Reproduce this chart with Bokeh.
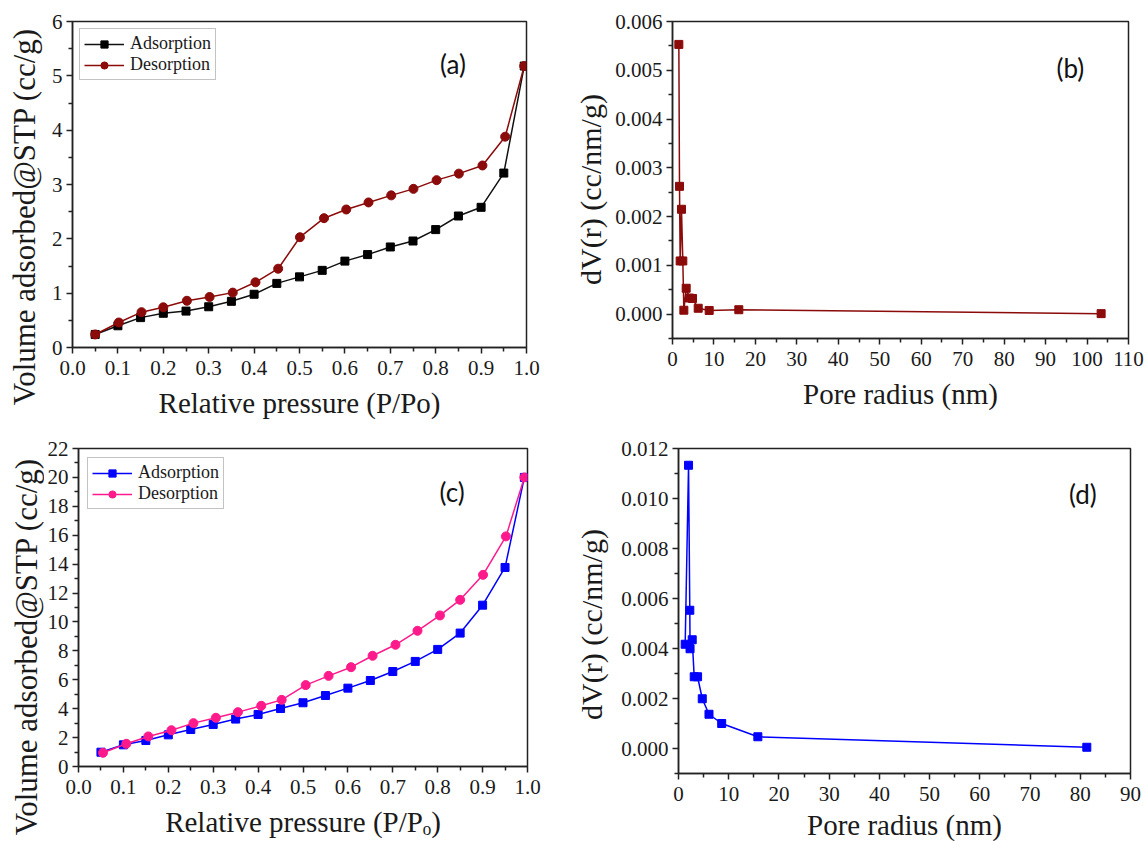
import math
from bokeh.plotting import figure
from bokeh.layouts import column, row
from bokeh.models import FixedTicker, Range1d, Label, NumeralTickFormatter
from bokeh.embed import file_html
from bokeh.resources import INLINE

# ---------------- data ----------------
# (a) isotherm, sample 1
a_ads_x = [0.05, 0.10, 0.15, 0.20, 0.25, 0.30, 0.35, 0.40, 0.45, 0.50,
           0.55, 0.60, 0.65, 0.70, 0.75, 0.80, 0.85, 0.90, 0.95, 0.995]
a_ads_y = [0.24, 0.40, 0.55, 0.63, 0.67, 0.75, 0.85, 0.98, 1.18, 1.30,
           1.42, 1.59, 1.71, 1.85, 1.96, 2.17, 2.42, 2.58, 3.21, 5.18]
a_des_x = [0.05, 0.102, 0.152, 0.20, 0.252, 0.302, 0.353, 0.403, 0.453, 0.501,
           0.554, 0.603, 0.652, 0.702, 0.751, 0.802, 0.851, 0.903, 0.953, 0.995]
a_des_y = [0.24, 0.46, 0.65, 0.74, 0.86, 0.93, 1.01, 1.20, 1.45, 2.03,
           2.38, 2.54, 2.67, 2.80, 2.92, 3.08, 3.20, 3.35, 3.88, 5.18]

# (b) pore size distribution, sample 1
b_r = [1.53, 1.69, 1.85, 2.17, 2.49, 2.74, 3.30, 4.10, 4.83, 6.20, 8.85, 16.0, 103.4]
b_dv = [0.00553, 0.00262, 0.00109, 0.00215, 0.00109, 0.00008, 0.00053,
        0.00033, 0.00032, 0.00012, 0.000075, 0.00009, 0.00001]

# (c) isotherm, sample 2
c_ads_x = [0.05, 0.10, 0.15, 0.20, 0.25, 0.30, 0.35, 0.40, 0.45, 0.50,
           0.55, 0.60, 0.65, 0.70, 0.75, 0.80, 0.85, 0.90, 0.95, 0.993]
c_ads_y = [0.99, 1.50, 1.80, 2.19, 2.56, 2.91, 3.28, 3.60, 4.01, 4.41,
           4.91, 5.42, 5.95, 6.57, 7.27, 8.10, 9.23, 11.16, 13.77, 20.0]
c_des_x = [0.0545, 0.1065, 0.1555, 0.207, 0.256, 0.306, 0.355, 0.407, 0.4525, 0.506,
           0.557, 0.607, 0.655, 0.706, 0.755, 0.805, 0.850, 0.901, 0.952, 0.993]
c_des_y = [0.95, 1.57, 2.08, 2.51, 3.00, 3.37, 3.76, 4.20, 4.61, 5.63,
           6.27, 6.87, 7.66, 8.42, 9.39, 10.45, 11.53, 13.26, 15.92, 20.0]

# (d) pore size distribution, sample 2
d_r = [1.33, 2.00, 2.25, 2.30, 2.73, 3.13, 3.80, 4.73, 6.07, 8.60, 15.8, 81.3]
d_dv = [0.00417, 0.01133, 0.00553, 0.00399, 0.00435, 0.00287, 0.00287,
        0.00199, 0.00137, 0.00100, 0.00047, 0.00005]

# tick values / labels
iso_x_ticks = [0.0, 0.1, 0.2, 0.3, 0.4, 0.5, 0.6, 0.7, 0.8, 0.9, 1.0]
iso_x_minor = [0.05, 0.15, 0.25, 0.35, 0.45, 0.55, 0.65, 0.75, 0.85, 0.95]
a_y_ticks = [0, 1, 2, 3, 4, 5, 6]
a_y_minor = [0.5, 1.5, 2.5, 3.5, 4.5, 5.5]
b_x_ticks = [0, 10, 20, 30, 40, 50, 60, 70, 80, 90, 100, 110]
b_x_minor = [5, 15, 25, 35, 45, 55, 65, 75, 85, 95, 105]
b_y_ticks = [0.0, 0.001, 0.002, 0.003, 0.004, 0.005, 0.006]
b_y_minor = [-0.0005, 0.0005, 0.0015, 0.0025, 0.0035, 0.0045, 0.0055]
c_y_ticks = [0, 2, 4, 6, 8, 10, 12, 14, 16, 18, 20, 22]
c_y_minor = [1, 3, 5, 7, 9, 11, 13, 15, 17, 19, 21]
d_x_ticks = [0, 10, 20, 30, 40, 50, 60, 70, 80, 90]
d_x_minor = [5, 15, 25, 35, 45, 55, 65, 75, 85]
d_y_ticks = [0.0, 0.002, 0.004, 0.006, 0.008, 0.010, 0.012]
d_y_minor = [-0.001, 0.001, 0.003, 0.005, 0.007, 0.009, 0.011]

# texts
iso_ylabel = "Volume adsorbed@STP (cc/g)"
a_xlabel = "Relative pressure (P/Po)"
c_xlabel = "Relative pressure (P/P\u2092)"
psd_xlabel = "Pore radius (nm)"
psd_ylabel = "dV(r) (cc/nm/g)"

SERIF = "Liberation Serif"
SANS = "Lato"
MAROON = "#8B0A0A"
BLUE = "#0000FF"
PINK = "#FF1A8C"

ROW1_H = 423
ROW2_H = 418
STRIP_W = 44


def make_fig(xr, yr, fw, fh, mbl, mbr, mbt, mbb, xt, xm, yt, ym, xfmt, yfmt,
             xlabel, xstand):
    p = figure(frame_width=fw, frame_height=fh,
               x_range=Range1d(*xr), y_range=Range1d(*yr),
               min_border_left=mbl, min_border_right=mbr,
               min_border_top=mbt, min_border_bottom=mbb,
               output_backend="svg", toolbar_location=None)
    p.grid.visible = False
    p.outline_line_color = "#222222"
    p.outline_line_width = 1.5
    p.background_fill_color = "white"
    p.border_fill_color = "white"
    p.xaxis.ticker = FixedTicker(ticks=xt, minor_ticks=xm)
    p.yaxis.ticker = FixedTicker(ticks=yt, minor_ticks=ym)
    p.xaxis.formatter = NumeralTickFormatter(format=xfmt)
    p.yaxis.formatter = NumeralTickFormatter(format=yfmt)
    for ax in (p.xaxis, p.yaxis):
        ax.axis_line_width = 1.5
        ax.axis_line_color = "#222222"
        ax.major_tick_line_width = 1.5
        ax.minor_tick_line_width = 1.5
        ax.major_tick_line_color = "#222222"
        ax.minor_tick_line_color = "#222222"
        ax.major_tick_out = 6
        ax.major_tick_in = 0
        ax.minor_tick_out = 4
        ax.minor_tick_in = 0
        ax.major_label_text_font = SERIF
        ax.major_label_text_font_size = "21px"
        ax.major_label_text_color = "#1a1a1a"
        ax.major_label_standoff = 4
        ax.axis_label_text_font = SERIF
        ax.axis_label_text_font_size = "29px"
        ax.axis_label_text_font_style = "normal"
        ax.axis_label_text_color = "#1a1a1a"
    p.xaxis.major_label_standoff = 7
    p.xaxis.axis_label = xlabel
    p.xaxis.axis_label_standoff = xstand
    return p


def title_strip(text, height, cx, cy_from_top, size):
    # narrow blank strip holding a rotated y-axis title (coordinates = pixels)
    s = figure(frame_width=STRIP_W, frame_height=height, min_border=0,
               x_range=Range1d(0, STRIP_W), y_range=Range1d(0, height),
               x_axis_location=None, y_axis_location=None,
               output_backend="svg", toolbar_location=None)
    s.grid.visible = False
    s.outline_line_color = None
    s.background_fill_color = "white"
    s.border_fill_color = "white"
    s.add_layout(Label(x=cx, y=height - cy_from_top, text=text, angle=math.pi / 2,
                       text_font=SERIF, text_font_size=size, text_color="#1a1a1a",
                       text_align="center", text_baseline="middle"))
    return s


def style_legend(p, margin):
    lg = p.legend[0]
    lg.location = "top_left"
    lg.margin = margin
    lg.label_text_font = SERIF
    lg.label_text_font_size = "18px"
    lg.label_text_color = "#1a1a1a"
    lg.glyph_width = 40
    lg.glyph_height = 18
    lg.label_height = 18
    lg.label_standoff = 6
    lg.spacing = 0
    lg.padding = 4
    lg.border_line_color = "#888888"
    lg.border_line_width = 1.2
    lg.background_fill_alpha = 1.0


def panel_label(p, text, x, y):
    p.add_layout(Label(x=x, y=y, text=text, text_font=SANS, text_font_size="26px",
                       text_color="#111111", text_align="center", text_baseline="middle"))


# ---------------- (a) ----------------
ta = title_strip(iso_ylabel, ROW1_H, 24, 195, "31px")
pa = make_fig((0, 1), (0, 6), 454, 326, 28, 42, 21, 76,
              iso_x_ticks, iso_x_minor, a_y_ticks, a_y_minor, "0.0", "0", a_xlabel, 9)
pa.line(a_ads_x, a_ads_y, line_color="#111111", line_width=1.5, legend_label="Adsorption")
pa.scatter(a_ads_x, a_ads_y, marker="square", size=8, fill_color="#000000",
           line_color="#000000", legend_label="Adsorption")
pa.line(a_des_x, a_des_y, line_color=MAROON, line_width=1.5, legend_label="Desorption")
pa.scatter(a_des_x, a_des_y, marker="circle", size=9, fill_color=MAROON,
           line_color=MAROON, legend_label="Desorption")
style_legend(pa, 7)
panel_label(pa, "(a)", 0.838, 5.21)

# ---------------- (b) ----------------
tb = title_strip(psd_ylabel, ROW1_H, 21.5, 168, "30px")
pb = make_fig((0, 110), (-0.0005, 0.006), 456, 317, 60, 18, 20, 86,
              b_x_ticks, b_x_minor, b_y_ticks, b_y_minor, "0", "0.000", psd_xlabel, 9)
pb.line(b_r, b_dv, line_color=MAROON, line_width=1.5)
pb.scatter(b_r, b_dv, marker="square", size=8, fill_color=MAROON, line_color=MAROON)
panel_label(pb, "(b)", 96, 0.00505)

# ---------------- (c) ----------------
tc = title_strip(iso_ylabel, ROW2_H, 26, 198, "31px")
pc = make_fig((0, 1), (0, 22), 449, 318, 34, 47, 24, 76,
              iso_x_ticks, iso_x_minor, c_y_ticks, c_y_minor, "0.0", "0", c_xlabel, 9)
pc.line(c_ads_x, c_ads_y, line_color=BLUE, line_width=1.5, legend_label="Adsorption")
pc.scatter(c_ads_x, c_ads_y, marker="square", size=8, fill_color=BLUE,
           line_color=BLUE, legend_label="Adsorption")
pc.line(c_des_x, c_des_y, line_color=PINK, line_width=1.5, legend_label="Desorption")
pc.scatter(c_des_x, c_des_y, marker="circle", size=9, fill_color=PINK,
           line_color=PINK, legend_label="Desorption")
style_legend(pc, 9)
panel_label(pc, "(c)", 0.832, 19.0)

# ---------------- (d) ----------------
td = title_strip(psd_ylabel, ROW2_H, 17, 176, "30px")
pd_ = make_fig((0, 90), (-0.001, 0.012), 452, 325, 60, 16, 25, 68,
               d_x_ticks, d_x_minor, d_y_ticks, d_y_minor, "0", "0.000", psd_xlabel, 5)
pd_.line(d_r, d_dv, line_color=BLUE, line_width=1.5)
pd_.scatter(d_r, d_dv, marker="square", size=8, fill_color=BLUE, line_color=BLUE)
panel_label(pd_, "(d)", 80.5, 0.0102)

layout = column(row(ta, pa, tb, pb), row(tc, pc, td, pd_))
open("out.html", "w").write(file_html(layout, INLINE))
